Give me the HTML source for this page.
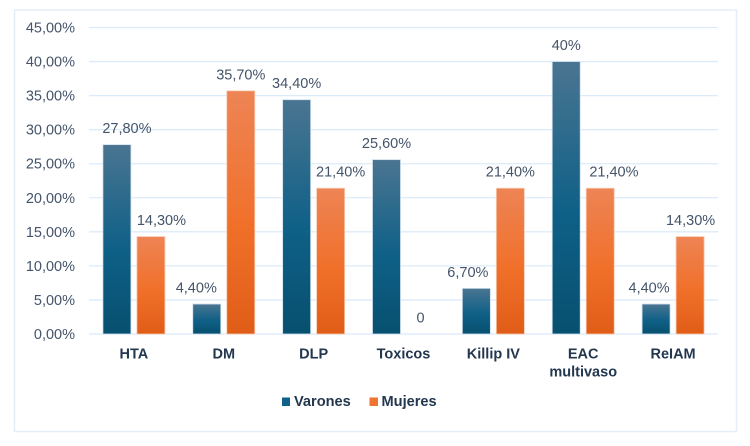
<!DOCTYPE html>
<html>
<head>
<meta charset="utf-8">
<style>
html,body{margin:0;padding:0;background:#fff;width:750px;height:446px;overflow:hidden}
svg{display:block;font-family:"Liberation Sans",sans-serif}
</style>
</head>
<body>
<svg id="chart" width="750" height="446" viewBox="0 0 750 446" xmlns="http://www.w3.org/2000/svg">
<defs>
<linearGradient id="gradBlue" x1="0" y1="0" x2="0" y2="1"><stop offset="0" stop-color="#4a7591"/><stop offset="0.55" stop-color="#0f6087"/><stop offset="1" stop-color="#07506f"/></linearGradient>
<linearGradient id="gradOrange" x1="0" y1="0" x2="0" y2="1"><stop offset="0" stop-color="#ee8455"/><stop offset="0.55" stop-color="#f0702a"/><stop offset="1" stop-color="#e05d18"/></linearGradient>
</defs>
<rect x="14.5" y="10" width="722" height="421.5" fill="#fff" stroke="#e3eefa" stroke-width="1.5"/>
<g id="grid"></g>
<g id="bars"></g>
<g id="labels"></g>
<g>
<rect x="282" y="397.5" width="8" height="8.5" fill="#11618a"/>
<text x="294" y="406" font-size="14.6" font-weight="700" fill="#23374f">Varones</text>
<rect x="369.5" y="397.5" width="8.5" height="8.5" fill="#ee7430"/>
<text x="381.5" y="406" font-size="14.6" font-weight="700" fill="#23374f">Mujeres</text>
</g>
</svg>
<script>
const categories = [["HTA"],["DM"],["DLP"],["Toxicos"],["Killip IV"],["EAC","multivaso"],["ReIAM"]];
const varones = [27.8,4.4,34.4,25.6,6.7,40,4.4];
const mujeres = [14.3,35.7,21.4,0,21.4,21.4,14.3];
const varonesLabels = ["27,80%","4,40%","34,40%","25,60%","6,70%","40%","4,40%"];
const mujeresLabels = ["14,30%","35,70%","21,40%","0","21,40%","21,40%","14,30%"];
const yTicks = [0,5,10,15,20,25,30,35,40,45];
const yTickLabels = ["0,00%","5,00%","10,00%","15,00%","20,00%","25,00%","30,00%","35,00%","40,00%","45,00%"];

const NS = "http://www.w3.org/2000/svg";
const plotLeft = 89, plotRight = 718, plotBottom = 334, plotTop = 27.5, yMax = 45;
const barW = 28, barGap = 6;
const yScale = v => plotBottom - (v / yMax) * (plotBottom - plotTop);
const bandW = (plotRight - plotLeft) / categories.length;
const xCenter = i => plotLeft + bandW * (i + 0.5);
const textColor = "#44546a";
/* manual horizontal label nudges, as hand-placed in the original chart */
const varonesNudge = [10,-10.5,0,0,-8.5,0,-7];
const mujeresNudge = [10.5,0,10,0,0,13.7,0.5];

function mk(tag, attrs, parent, txt) {
  const el = document.createElementNS(NS, tag);
  for (const k in attrs) el.setAttribute(k, attrs[k]);
  if (txt !== undefined) el.textContent = txt;
  parent.appendChild(el);
  return el;
}
const grid = document.getElementById("grid");
const bars = document.getElementById("bars");
const labels = document.getElementById("labels");

yTicks.forEach((t, i) => {
  const line = mk("line", {x1: plotLeft, x2: plotRight, y1: yScale(t), y2: yScale(t), stroke: "#dcebfa", "stroke-width": 1.3}, grid);
  
  
  const label = mk("text", {x: 75, y: yScale(t) + 5, "text-anchor": "end", "font-size": 14.5, fill: textColor}, labels, yTickLabels[i]);
  
  
});

function drawSeries(values, valueLabels, nudges, offset, fill, stroke, seriesName) {
  values.forEach((v, i) => {
    const cx = xCenter(i) + offset;
    const top = yScale(v);
    if (v > 0) {
      const bar = mk("rect", {x: cx - barW / 2, y: top, width: barW, height: plotBottom - top, fill: fill, stroke: stroke, "stroke-width": 0.8}, bars);
      
      
    }
    const lab = mk("text", {x: cx + nudges[i], y: top - 11.5, "text-anchor": "middle", "font-size": 14.5, fill: textColor}, labels, valueLabels[i]);
    
    
  });
}
drawSeries(varones, varonesLabels, varonesNudge, -(barW + barGap) / 2, "url(#gradBlue)", "#cfe0ee", "varones");
drawSeries(mujeres, mujeresLabels, mujeresNudge, (barW + barGap) / 2, "url(#gradOrange)", "#f8c9ae", "mujeres");

categories.forEach((lines, i) => {
  lines.forEach((ln, j) => {
    const cat = mk("text", {x: xCenter(i), y: 358.5 + j * 18, "text-anchor": "middle", "font-size": 14.5, "font-weight": 700, fill: "#23374f"}, labels, ln);
    
    
  });
});
</script>
</body>
</html>
